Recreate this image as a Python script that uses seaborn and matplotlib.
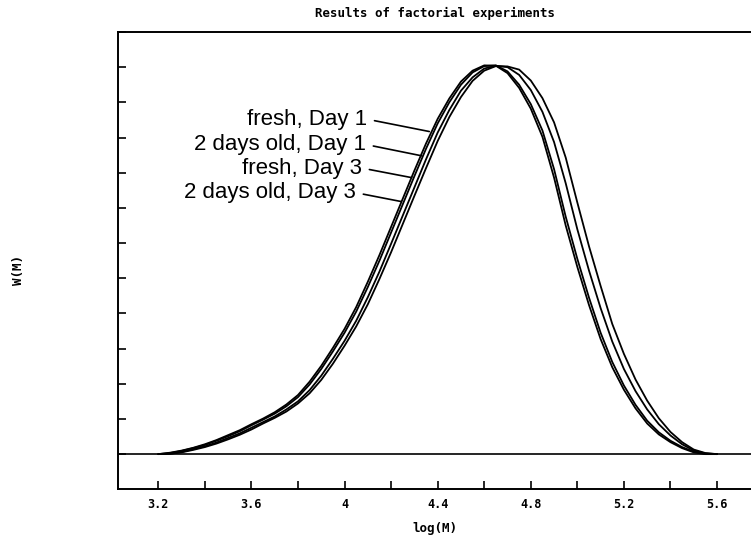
import numpy as np
import pandas as pd
import matplotlib
matplotlib.use("Agg")
import matplotlib.pyplot as plt
from matplotlib.ticker import FixedLocator
import seaborn as sns


# -------------------- DATA --------------------
log_m = [3.20, 3.25, 3.30, 3.35, 3.40, 3.45, 3.50, 3.55, 3.60, 3.65,
         3.70, 3.75, 3.80, 3.85, 3.90, 3.95, 4.00, 4.05, 4.10, 4.15,
         4.20, 4.25, 4.30, 4.35, 4.40, 4.45, 4.50, 4.55, 4.60, 4.65,
         4.70, 4.75, 4.80, 4.85, 4.90, 4.95, 5.00, 5.05, 5.10, 5.15,
         5.20, 5.25, 5.30, 5.35, 5.40, 5.45, 5.50, 5.55, 5.60]

fresh_day1 = [0.00, 0.04, 0.10, 0.18, 0.28, 0.40, 0.54, 0.68, 0.85, 1.01,
              1.19, 1.41, 1.68, 2.06, 2.51, 3.02, 3.56, 4.18, 4.90, 5.66,
              6.46, 7.26, 8.06, 8.83, 9.53, 10.11, 10.59, 10.90, 11.05, 11.04,
              10.83, 10.41, 9.82, 9.02, 7.86, 6.50, 5.32, 4.24, 3.27, 2.47,
              1.83, 1.30, 0.87, 0.56, 0.34, 0.17, 0.05, 0.00, 0.00]

old_day1 = [0.00, 0.03, 0.09, 0.17, 0.26, 0.38, 0.51, 0.65, 0.82, 0.98,
            1.15, 1.36, 1.62, 1.98, 2.42, 2.92, 3.45, 4.05, 4.75, 5.50,
            6.30, 7.10, 7.90, 8.68, 9.40, 10.00, 10.50, 10.85, 11.03, 11.05,
            10.88, 10.50, 9.95, 9.20, 8.10, 6.75, 5.55, 4.45, 3.45, 2.62,
            1.95, 1.40, 0.95, 0.62, 0.38, 0.20, 0.07, 0.01, 0.00]

fresh_day3 = [0.00, 0.01, 0.06, 0.14, 0.22, 0.33, 0.46, 0.59, 0.75, 0.91,
              1.07, 1.27, 1.50, 1.82, 2.23, 2.71, 3.22, 3.79, 4.46, 5.19,
              5.98, 6.78, 7.58, 8.38, 9.14, 9.78, 10.33, 10.71, 10.96, 11.04,
              11.00, 10.78, 10.35, 9.73, 8.87, 7.70, 6.39, 5.22, 4.15, 3.20,
              2.42, 1.79, 1.27, 0.85, 0.53, 0.28, 0.10, 0.02, 0.00]

old_day3 = [0.00, 0.01, 0.05, 0.12, 0.20, 0.30, 0.42, 0.55, 0.70, 0.87,
            1.03, 1.21, 1.44, 1.73, 2.11, 2.57, 3.08, 3.63, 4.26, 4.98,
            5.74, 6.54, 7.34, 8.13, 8.90, 9.58, 10.15, 10.61, 10.90, 11.03,
            11.02, 10.93, 10.62, 10.12, 9.43, 8.43, 7.15, 5.91, 4.78, 3.70,
            2.85, 2.12, 1.52, 1.02, 0.63, 0.34, 0.13, 0.03, 0.00]

labels = ["fresh, Day 1", "2 days old, Day 1", "fresh, Day 3", "2 days old, Day 3"]
label_x = [4.097, 4.092, 4.075, 4.049]
label_y = [9.52, 8.80, 8.13, 7.43]
tip_x = [4.364, 4.331, 4.288, 4.243]
tip_y = [9.17, 8.48, 7.86, 7.18]

x_ticks = [3.2, 3.6, 4.0, 4.4, 4.8, 5.2, 5.6]
x_tick_labels = ["3.2", "3.6", "4", "4.4", "4.8", "5.2", "5.6"]
x_minor = [3.4, 3.8, 4.2, 4.6, 5.0, 5.4]
y_ticks = list(range(0, 13))


# -------------------- BUILD TABLE --------------------
def build_frame():
    series = [fresh_day1, old_day1, fresh_day3, old_day3]
    parts = []
    for name, vals in zip(labels, series):
        parts.append(pd.DataFrame({"logM": log_m, "W": vals, "sample": name}))
    return pd.concat(parts, ignore_index=True)


# -------------------- PLOT --------------------
def plot_curves(df):
    sns.set_theme(style="white")
    plt.rcParams["font.family"] = ["DejaVu Sans Mono", "DejaVu Sans"]
    plt.rcParams["text.color"] = "black"
    plt.rcParams["axes.labelcolor"] = "black"
    plt.rcParams["xtick.color"] = "black"
    plt.rcParams["ytick.color"] = "black"

    fig = plt.figure(figsize=(7.51, 5.40), dpi=100)
    ax = fig.add_axes([0.1575, 0.0939, 0.8425, 0.8469])

    sns.lineplot(data=df, x="logM", y="W", hue="sample",
                 palette=["black"] * 4, legend=False,
                 linewidth=1.3, estimator=None, ax=ax)
    ax.axhline(0, color="black", linewidth=1.2)

    ax.set_xlim(3.028, 5.746)
    ax.set_ylim(-1, 12)

    ax.xaxis.set_major_locator(FixedLocator(x_ticks))
    ax.xaxis.set_minor_locator(FixedLocator(x_minor))
    ax.set_xticklabels(x_tick_labels)
    ax.set_yticks(y_ticks)
    ax.set_yticklabels([])
    ax.tick_params(axis="both", which="both", direction="in", length=6,
                   width=1.2, color="black", labelcolor="black",
                   labelsize=8.5, pad=6, bottom=True, left=True)
    for lab in ax.get_xticklabels():
        lab.set_fontweight("bold")

    for side in ["left", "bottom", "top"]:
        ax.spines[side].set_color("black")
        ax.spines[side].set_linewidth(1.4)
    ax.spines["right"].set_visible(False)

    ax.set_title("Results of factorial experiments", fontsize=9,
                 fontweight="bold", pad=11, color="black")
    ax.set_xlabel("log(M)", fontsize=9, fontweight="bold", labelpad=8)
    ax.set_ylabel("W(M)", fontsize=9, fontweight="bold")
    ax.yaxis.set_label_coords(-0.147, 0.48)

    for text, lx, ly, tx, ty in zip(labels, label_x, label_y, tip_x, tip_y):
        ax.annotate(text, xy=(tx, ty), xytext=(lx, ly),
                    ha="right", va="center", fontsize=16, color="black",
                    family=["Liberation Sans", "DejaVu Sans"],
                    arrowprops=dict(arrowstyle="-", color="black", lw=1.2,
                                    relpos=(1.0, 0.5), shrinkA=3, shrinkB=0))

    fig.savefig("out.png", dpi=100)


def main():
    df = build_frame()
    plot_curves(df)


if __name__ == "__main__":
    main()
